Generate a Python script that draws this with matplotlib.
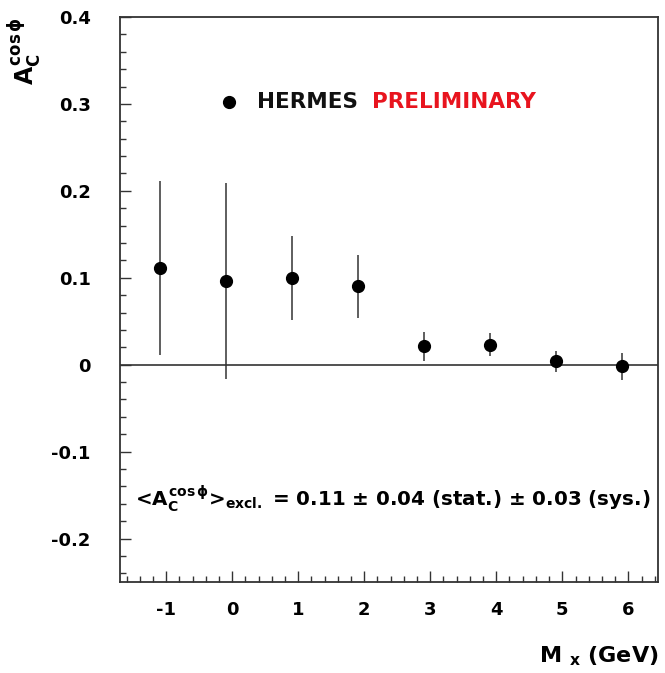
import matplotlib
matplotlib.use('Agg')
import matplotlib.pyplot as plt
from matplotlib.ticker import MultipleLocator

# data
mx = [-1.1, -0.1, 0.9, 1.9, 2.9, 3.9, 4.9, 5.9]
asym = [0.111, 0.096, 0.100, 0.090, 0.021, 0.023, 0.004, -0.002]
err = [0.100, 0.113, 0.048, 0.036, 0.017, 0.013, 0.012, 0.016]

x_ticks = [-1, 0, 1, 2, 3, 4, 5, 6]
y_ticks = [-0.2, -0.1, 0.0, 0.1, 0.2, 0.3, 0.4]
y_ticklabels = ['-0.2', '-0.1', '0', '0.1', '0.2', '0.3', '0.4']

plt.rcParams['font.family'] = ['DejaVu Sans']
plt.rcParams['font.weight'] = 'bold'
plt.rcParams['axes.labelweight'] = 'bold'
plt.rcParams['axes.unicode_minus'] = False
plt.rcParams['mathtext.fontset'] = 'custom'
plt.rcParams['mathtext.rm'] = 'DejaVu Sans:bold'
plt.rcParams['mathtext.it'] = 'DejaVu Sans:bold'
plt.rcParams['mathtext.bf'] = 'DejaVu Sans:bold'


def main():
    fig = plt.figure(figsize=(6.65, 6.73), dpi=100)
    ax = fig.add_axes([0.1805, 0.1352, 0.8090, 0.8395])

    ax.set_xlim(-1.7, 6.45)
    ax.set_ylim(-0.25, 0.4)

    ax.axhline(0, color='#333333', lw=1.2, zorder=1)
    ax.errorbar(mx, asym, yerr=err, fmt='o', color='black', ms=8.5,
                ecolor='#333333', elinewidth=1.1, capsize=0, zorder=3)

    ax.set_xticks(x_ticks)
    ax.set_yticks(y_ticks)
    ax.set_yticklabels(y_ticklabels)
    ax.xaxis.set_minor_locator(MultipleLocator(0.2))
    ax.yaxis.set_minor_locator(MultipleLocator(0.02))
    ax.tick_params(which='both', direction='in', top=False, right=False,
                   color='#333333', width=1.0)
    ax.tick_params(which='major', length=8, labelsize=13)
    ax.tick_params(axis='y', which='major', pad=21)
    ax.tick_params(axis='x', which='major', pad=14)
    ax.tick_params(which='minor', length=4)
    for s in ax.spines.values():
        s.set_linewidth(1.3)
        s.set_color('#333333')

    ax.set_ylabel(r'$A_C^{cos\,\phi}$', fontsize=17, loc='top')
    ax.yaxis.set_label_coords(-0.143, 1.0)
    ax.set_xlabel(r'M $_{x}$ (GeV)', fontsize=16, loc='right', labelpad=18)

    # key
    ax.plot([0.203], [0.850], 'o', color='black', ms=8.5, transform=ax.transAxes,
            clip_on=False)
    t = ax.text(0.255, 0.850, 'HERMES', transform=ax.transAxes, fontsize=15.5,
                va='center', ha='left', color='#111111')
    ax.annotate('PRELIMINARY', xy=(1, 0.5), xycoords=t, xytext=(10, 0),
                textcoords='offset points', fontsize=15.5, va='center', ha='left',
                color='#e8141e')

    ax.text(0.028, 0.148,
            r'<$A_C^{cos\,\phi}$>$_{excl.}$ = 0.11 $\pm$ 0.04 (stat.) $\pm$ 0.03 (sys.)',
            transform=ax.transAxes, fontsize=14.3, va='center', ha='left')

    fig.savefig('out.png', dpi=100)
    plt.close(fig)


if __name__ == '__main__':
    main()
